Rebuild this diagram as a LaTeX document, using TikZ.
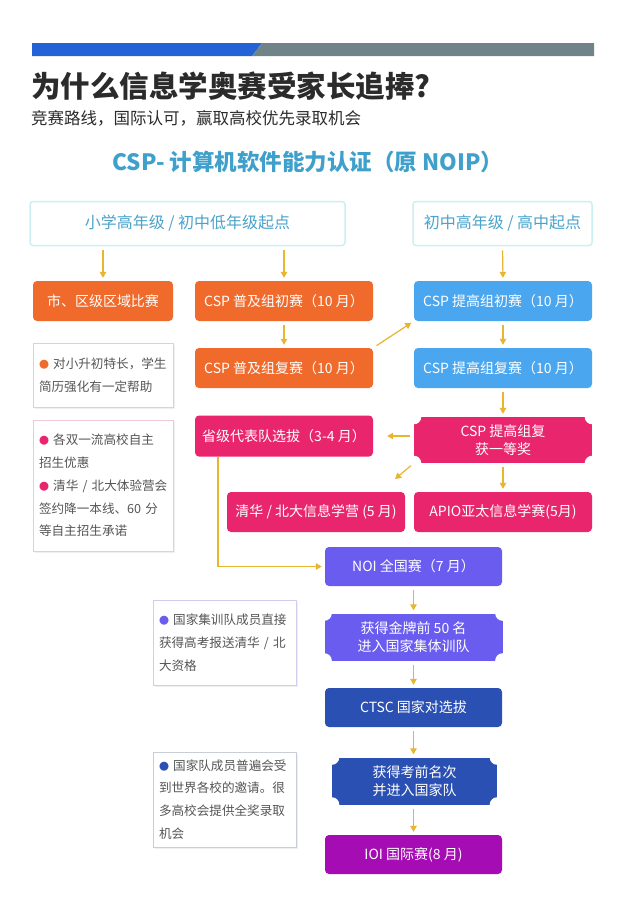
\documentclass[tikz,border=0pt]{standalone}
\usepackage{fontspec}
\setmainfont{Noto Sans CJK SC}
\usetikzlibrary{arrows.meta,shadows}
\definecolor{corange}{HTML}{F06A2C}
\definecolor{cblue}{HTML}{4AA6EE}
\definecolor{cpink}{HTML}{E9266D}
\definecolor{cpurple}{HTML}{6B5CF0}
\definecolor{cdark}{HTML}{2B50B3}
\definecolor{cmag}{HTML}{A50CB4}
\definecolor{cgold}{HTML}{E8B52E}
\definecolor{chdborder}{HTML}{CBEFF3}
\definecolor{chdtext}{HTML}{4BA3CB}
\definecolor{cbarblue}{HTML}{2363D6}
\definecolor{cbargray}{HTML}{6F8389}
\definecolor{ctitle}{HTML}{2B2B2B}
\definecolor{cheading}{HTML}{40A0CC}
\definecolor{cnote}{HTML}{555555}
\definecolor{cnoteA}{HTML}{E5D3B8}
\definecolor{cnoteB}{HTML}{F0C8D6}
\definecolor{cnoteC}{HTML}{D2CCEE}
\definecolor{cnoteD}{HTML}{C8CDD8}
\newcommand{\bul}[1]{{\textcolor{#1}{\fontsize{10}{10}\selectfont ●}}~}
\tikzset{
  cbox/.style={rounded corners=4pt, text=white, inner sep=0pt,
    font=\fontsize{14}{16}\selectfont, align=center},
  nbox/.style={inner sep=0pt, text=white, font=\fontsize{14}{18}\selectfont, align=center},
  hdbox/.style={draw=chdborder, line width=1.5pt, rounded corners=3pt, fill=white,
    text=chdtext, font=\fontsize{16}{18}\selectfont, minimum height=44pt},
  notebox/.style={draw=#1, line width=1pt, fill=white, text=cnote, align=left,
    inner sep=0pt, font=\fontsize{12.6}{22.8}\selectfont,
    drop shadow={opacity=0.12, shadow xshift=1.5pt, shadow yshift=-1.5pt}},
  arr/.style={draw=cgold, line width=1.2pt, -{Triangle[width=6.5pt,length=6pt]},
    shorten >=3pt, shorten <=4pt}
}
\begin{document}
\begin{tikzpicture}[x=1pt,y=-1pt]
\useasboundingbox[fill=white] (0,0) rectangle (640,922);
% top bar
\fill[cbarblue] (32,43) -- (262,43) -- (252,56) -- (32,56) -- cycle;
\fill[cbargray] (262,43) -- (594,43) -- (594,56) -- (252,56) -- cycle;
% titles
\node[anchor=base west, inner sep=0pt, text=ctitle, font=\fontsize{29.5}{32}\selectfont\bfseries] (title) at (31,97) {为什么信息学奥赛受家长追捧?};
\node[anchor=west, inner sep=0pt, text=ctitle, font=\fontsize{16.5}{18}\selectfont] (sub) at (31,118) {竞赛路线，国际认可，赢取高校优先录取机会};
\node[inner sep=0pt, text=cheading, font=\fontsize{22.5}{24}\selectfont\bfseries] (head) at (308,162) {CSP- 计算机软件能力认证（原 NOIP）};
% header boxes
\node[hdbox, minimum width=315pt] (hA) at (187.5,223.5) {小学高年级 / 初中低年级起点};
\node[hdbox, minimum width=179pt] (hB) at (502.5,223.5) {初中高年级 / 高中起点};
% row boxes
\node[cbox, fill=corange, minimum width=140pt, minimum height=40pt] (r1) at (103,301) {市、区级区域比赛};
\node[cbox, fill=corange, minimum width=178pt, minimum height=40pt] (pj1) at (284,301) {CSP 普及组初赛（10 月）};
\node[cbox, fill=cblue, minimum width=178pt, minimum height=40pt] (tg1) at (503,301) {CSP 提高组初赛（10 月）};
\node[cbox, fill=corange, minimum width=178pt, minimum height=40pt] (pj2) at (284,368) {CSP 普及组复赛（10 月）};
\node[cbox, fill=cblue, minimum width=178pt, minimum height=40pt] (tg2) at (503,368) {CSP 提高组复赛（10 月）};
\node[cbox, fill=cpink, minimum width=178pt, minimum height=41pt] (sj) at (284,436) {省级代表队选拔（3-4 月）};
\node[nbox, fill=cpink, minimum width=178pt, minimum height=46pt] (yd) at (503,440) {CSP 提高组复\\获一等奖};
\node[cbox, fill=cpink, minimum width=178pt, minimum height=40pt] (qh) at (316,512) {清华 / 北大信息学营 (5 月)};
\node[cbox, fill=cpink, minimum width=178pt, minimum height=40pt] (apio) at (503,512) {APIO亚太信息学赛(5月)};
\node[cbox, fill=cpurple, minimum width=177pt, minimum height=39pt] (noi) at (413.5,566.5) {NOI 全国赛（7 月）};
\node[nbox, fill=cpurple, minimum width=178pt, minimum height=47pt] (jp) at (413.5,637) {获得金牌前 50 名\\进入国家集体训队};
\node[cbox, fill=cdark, minimum width=177pt, minimum height=39pt] (ctsc) at (413.5,707.5) {CTSC 国家对选拔};
\node[nbox, fill=cdark, minimum width=165pt, minimum height=47pt] (gj) at (414.5,781) {获得考前名次\\并进入国家队};
\node[cbox, fill=cmag, minimum width=177pt, minimum height=39pt] (ioi) at (413.5,854.5) {IOI 国际赛(8 月)};
% notches
\foreach \n in {yd,jp,gj}{
  \foreach \a in {north east,north west,south east,south west}{
    \fill[white] (\n.\a) circle (7.5pt);
  }
}
% notes
\node[notebox=cnoteA, minimum width=140pt, minimum height=64pt, text width=128pt] (n1) at (103,375)
  {\bul{corange}对小升初特长，学生\\简历强化有一定帮助};
\node[notebox=cnoteB, minimum width=140pt, minimum height=131pt, text width=128pt] (n2) at (103,485.5)
  {\bul{cpink}各双一流高校自主\\招生优惠\\\bul{cpink}清华~/~北大体验营会\\签约降一本线、60~分\\等自主招生承诺};
\node[notebox=cnoteC, minimum width=143pt, minimum height=85pt, text width=131pt] (n3) at (224.5,642.5)
  {\bul{cpurple}国家集训队成员直接\\获得高考报送清华~/~北\\大资格};
\node[notebox=cnoteD, minimum width=143pt, minimum height=95pt, text width=131pt] (n4) at (224.5,799.5)
  {\bul{cdark}国家队成员普遍会受\\到世界各校的邀请。很\\多高校会提供全奖录取\\机会};
% arrows
\draw[arr] (hA.south -| r1.north) -- (r1.north);
\draw[arr] (hA.south -| pj1.north) -- (pj1.north);
\draw[arr] (hB.south) -- (tg1.north);
\draw[arr] (pj1.south) -- (pj2.north);
\draw[arr] (tg1.south) -- (tg2.north);
\draw[arr] (pj2.north east) -- (tg1.south west);
\draw[arr] (tg2.south) -- (yd.north);
\draw[arr, shorten >=14pt] (yd.west |- sj.east) -- (sj.east);
\coordinate (dq) at (395,479);
\draw[arr, shorten >=0pt] (yd.south west) -- (dq);
\draw[arr] (yd.south -| apio.north) -- (apio.north);
\draw[arr, shorten <=0pt] ([xshift=-66pt]sj.south) |- (noi.west);
\draw[arr] (noi.south) -- (jp.north);
\draw[arr] (jp.south) -- (ctsc.north);
\draw[arr] (ctsc.south) -- (ctsc.south |- gj.north);
\draw[arr] (gj.south -| ioi.north) -- (ioi.north);
\end{tikzpicture}
\end{document}
